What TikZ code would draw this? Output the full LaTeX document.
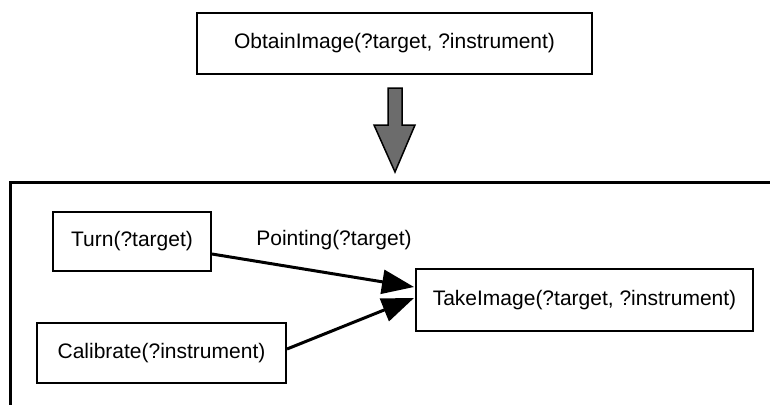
\documentclass[tikz,border=0pt]{standalone}
\usepackage{fontspec}
\setmainfont{Liberation Sans}
\usetikzlibrary{arrows.meta}
\begin{document}
\begin{tikzpicture}[x=1pt,y=-1pt,
  box/.style={draw,line width=2pt,inner sep=0pt,font=\fontsize{21}{24}\selectfont},
  conn/.style={line width=3pt,-{Triangle[length=32pt,width=24pt]}},
  frameline/.style={line width=3pt}]
\useasboundingbox (0,0) rectangle (770,405);
\node[box,minimum width=395pt,minimum height=61pt] (obtain) at (394.5,43.5) {ObtainImage(?target, ?instrument)};
\node[box,minimum width=158pt,minimum height=59pt] (turn) at (132,241.5) {Turn(?target)};
\node[box,minimum width=249pt,minimum height=60pt] (calib) at (161.5,353) {Calibrate(?instrument)};
\node[box,minimum width=337pt,minimum height=62pt] (take) at (584.5,300) {TakeImage(?target, ?instrument)};
\node[font=\fontsize{21}{24}\selectfont] (lbl) at (334,240) {Pointing(?target)};
% big down arrow
\coordinate (at) at (395,172);
\draw[line width=1.5pt,fill=gray!85!black] (388,88) -- (402,88) -- (402,125) -- (415,125) -- (at) -- (374,125) -- (388,125) -- cycle;
% frame
\coordinate (fr) at (770,182);
\coordinate (fc) at (10,182);
\coordinate (fb) at (10,405);
\draw[frameline] (fr) -- (fc) -- (fb);
% connectors
\coordinate (t1) at (414,287);
\coordinate (t2) at (414,298);
\draw[conn] (turn.east |- 0,254) -- (t1);
\draw[conn] (calib.east |- 0,349) -- (t2);
\end{tikzpicture}
\end{document}
